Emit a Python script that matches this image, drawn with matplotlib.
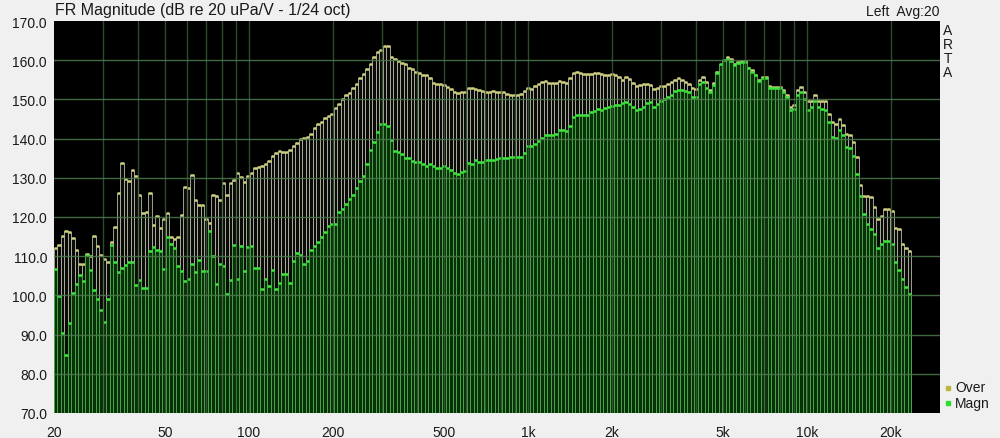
import numpy as np
import matplotlib
matplotlib.use("Agg")
import matplotlib.pyplot as plt
from matplotlib.ticker import FixedLocator, FixedFormatter, NullLocator

plt.rcParams['font.family'] = ['Liberation Sans', 'DejaVu Sans']

# ---------------- data (1/24 octave bands starting at 20 Hz) ----------------
f_start = 20.0
bands_per_octave = 24

over_db = [
    112.2, 112.8, 115.1, 116.5, 116.1, 114.7, 111.7, 108.0, 108.0, 110.6,
    110.0, 115.1, 112.6, 110.3, 109.2, 108.6, 113.5, 117.5, 126.0, 133.8,
    129.8, 129.2, 132.1, 130.5, 125.6, 120.9, 121.2, 126.0, 117.9, 120.2,
    117.1, 119.4, 120.9, 115.0, 114.5, 115.0, 120.5, 127.7, 127.5, 130.7,
    124.3, 123.0, 123.0, 119.4, 118.5, 125.7, 125.3, 124.3, 128.6, 125.7,
    128.8, 129.5, 131.2, 130.2, 129.0, 130.5, 131.1, 132.4, 132.8, 133.0,
    133.5, 134.3, 135.6, 136.2, 136.8, 136.6, 136.6, 137.0, 138.2, 138.8,
    139.8, 140.1, 140.5, 141.3, 142.8, 143.6, 144.3, 145.2, 145.8, 146.4,
    147.7, 148.8, 150.0, 151.0, 151.7, 152.8, 153.9, 155.4, 156.4, 157.7,
    159.0, 160.9, 162.0, 162.6, 163.5, 163.5, 160.9, 160.3, 159.8, 159.4,
    159.0, 158.1, 157.7, 157.1, 156.7, 156.1, 156.1, 155.5, 154.3, 154.0,
    154.0, 153.8, 153.1, 152.6, 152.0, 151.6, 151.8, 151.8, 152.9, 152.9,
    152.6, 152.5, 152.2, 152.0, 151.9, 152.2, 152.0, 152.0, 151.8, 151.4,
    151.2, 151.2, 151.0, 151.4, 152.2, 152.9, 152.6, 153.3, 153.9, 154.4,
    154.8, 154.2, 154.2, 154.2, 154.8, 154.4, 154.2, 155.5, 156.7, 157.0,
    156.7, 156.5, 156.6, 156.4, 156.7, 156.7, 156.4, 156.1, 156.2, 156.4,
    156.1, 155.8, 155.0, 155.8, 155.2, 154.1, 153.3, 153.7, 153.9, 153.9,
    153.7, 152.7, 153.0, 153.3, 153.3, 153.9, 154.4, 155.0, 155.4, 155.0,
    154.5, 153.9, 153.0, 152.7, 155.0, 155.8, 154.5, 152.4, 154.1, 157.1,
    158.8, 159.8, 160.7, 160.3, 159.0, 159.5, 159.7, 159.7, 158.1, 157.4,
    156.2, 155.0, 155.8, 155.8, 153.3, 153.2, 153.2, 153.2, 152.3, 151.0,
    148.0, 148.5, 152.3, 153.2, 151.9, 149.7, 149.5, 151.0, 149.7, 149.7,
    149.7, 146.3, 144.2, 143.8, 145.1, 143.4, 141.2, 141.0, 139.1, 135.3,
    128.2, 125.4, 125.4, 125.0, 122.5, 119.5, 120.3, 122.0, 122.0, 121.6,
    117.3, 116.9, 113.1, 112.0, 111.4,
]

magn_db = [
    106.7, 99.8, 90.3, 84.8, 93.0, 100.7, 103.0, 105.2, 103.6, 110.4,
    106.4, 101.5, 99.0, 96.4, 93.3, 99.2, 112.8, 108.6, 106.0, 107.1,
    107.7, 108.6, 108.6, 102.6, 103.9, 101.8, 101.9, 111.3, 112.4, 111.5,
    111.3, 106.7, 114.9, 113.2, 112.1, 107.6, 106.3, 103.6, 104.1, 107.9,
    106.0, 109.0, 106.3, 106.3, 116.4, 110.1, 103.0, 107.9, 107.6, 100.3,
    104.0, 112.9, 104.2, 112.6, 106.1, 112.3, 112.6, 107.0, 107.0, 101.7,
    104.2, 102.4, 106.4, 101.7, 103.2, 105.5, 105.5, 103.2, 108.7, 110.8,
    110.4, 108.1, 108.7, 111.7, 112.5, 113.6, 114.9, 116.2, 117.6, 118.3,
    118.3, 121.3, 122.0, 123.3, 124.5, 125.7, 127.4, 129.1, 130.5, 133.4,
    137.0, 139.2, 141.6, 143.6, 143.6, 143.3, 139.6, 136.8, 136.5, 136.0,
    135.1, 135.0, 134.4, 134.0, 134.0, 133.5, 133.0, 133.5, 132.9, 132.4,
    132.4, 132.9, 132.4, 132.0, 131.2, 130.9, 131.4, 131.8, 133.7, 133.5,
    134.6, 134.1, 134.1, 134.6, 134.6, 134.6, 134.8, 135.0, 135.0, 135.0,
    135.2, 135.2, 135.2, 135.4, 136.3, 138.0, 138.0, 138.6, 139.4, 140.1,
    141.0, 141.0, 140.8, 141.1, 142.2, 142.2, 142.0, 143.1, 145.4, 145.9,
    145.9, 146.1, 146.1, 146.7, 147.0, 147.5, 147.3, 147.9, 148.1, 148.4,
    148.6, 148.6, 149.2, 149.4, 148.8, 148.1, 147.3, 147.6, 148.1, 149.0,
    149.4, 148.1, 148.7, 149.6, 150.1, 150.5, 151.1, 152.2, 152.4, 152.4,
    152.2, 151.8, 150.7, 150.7, 153.9, 154.5, 153.0, 152.0, 153.7, 156.7,
    159.0, 160.1, 160.3, 159.9, 158.8, 159.2, 159.5, 159.5, 158.0, 157.1,
    156.1, 154.7, 155.4, 155.4, 153.0, 152.9, 152.9, 153.0, 151.8, 150.5,
    147.2, 147.6, 151.0, 151.9, 150.2, 147.2, 148.1, 149.5, 148.1, 147.6,
    147.2, 144.2, 140.4, 140.1, 142.1, 141.0, 137.8, 137.6, 135.5, 131.0,
    125.4, 120.7, 118.2, 117.0, 115.6, 112.2, 113.1, 113.9, 113.9, 113.1,
    108.5, 106.4, 104.2, 102.1, 100.4,
]

x_ticks = [20, 50, 100, 200, 500, 1000, 2000, 5000, 10000, 20000]
x_tick_labels = ['20', '50', '100', '200', '500', '1k', '2k', '5k', '10k', '20k']
y_ticks = [70, 80, 90, 100, 110, 120, 130, 140, 150, 160, 170]
grid_freqs = [m * 10 ** e for e in range(1, 5) for m in range(1, 10)]

# ---------------- figure ----------------
W, H = 1000, 439
fig = plt.figure(figsize=(W / 100, H / 100), dpi=100, facecolor='#f0f0f0')
ax = fig.add_axes([54 / W, 1 - 414 / H, 886 / W, 392 / H])
ax.set_facecolor('black')
ax.set_xscale('log')
ax.set_xlim(20, 30000)
ax.set_ylim(70, 170)

n = len(over_db)
idx = np.arange(n)
left = f_start * 2 ** (idx / bands_per_octave)
right = f_start * 2 ** ((idx + 1) / bands_per_octave)
width = right - left
base = 70.0
over = np.array(over_db)
magn = np.array(magn_db)

ax.bar(left, over - base, width=width, bottom=base, align='edge',
       color='#0a0a08', edgecolor='#b8b8a8', linewidth=0.6, zorder=2)
ax.hlines(over, left, right, colors='#cfcf7c', linewidth=1.8, zorder=3)
ax.bar(left, magn - base, width=width, bottom=base, align='edge',
       color='#0a300a', edgecolor='#4aae4a', linewidth=0.6, zorder=4)
ax.hlines(magn, left, right, colors='#3ce83c', linewidth=1.8, zorder=5)

# grid drawn over the bars
for g in grid_freqs:
    if 20 < g < 30000:
        ax.axvline(g, color='#3a5e3a', linewidth=1.0, alpha=0.8, zorder=6)
for yv in y_ticks[1:-1]:
    ax.axhline(yv, color='#4d7a4d', linewidth=1.0, alpha=0.85, zorder=6)

for s in ax.spines.values():
    s.set_visible(False)

ax.xaxis.set_major_locator(FixedLocator(x_ticks))
ax.xaxis.set_major_formatter(FixedFormatter(x_tick_labels))
ax.xaxis.set_minor_locator(NullLocator())
ax.set_yticks(y_ticks)
ax.set_yticklabels(['%.1f' % v for v in y_ticks])
ax.tick_params(axis='both', length=0, labelsize=10, colors='#1a1a1a')
ax.tick_params(axis='x', pad=9)
ax.tick_params(axis='y', pad=5)

# texts
fig.text(55 / W, 1 - 11 / H, 'FR Magnitude (dB re 20 uPa/V - 1/24 oct)',
         ha='left', va='center', fontsize=11.5, color='#1a1a1a')
fig.text(940 / W, 1 - 12 / H, 'Left  Avg:20', ha='right', va='center',
         fontsize=10, color='#1a1a1a')
for k, ch in enumerate('ARTA'):
    fig.text(948 / W, 1 - (31 + 14 * k) / H, ch, ha='center', va='center',
             fontsize=10, color='#1a1a1a')

# legend
fig.patches.append(plt.Rectangle((946 / W, 1 - 391 / H), 4 / W, 4 / H,
                                 transform=fig.transFigure, color='#bdb83c'))
fig.patches.append(plt.Rectangle((946 / W, 1 - 406 / H), 4 / W, 4 / H,
                                 transform=fig.transFigure, color='#2ede2e'))
fig.text(955 / W, 1 - 388 / H, 'Over', ha='left', va='center', fontsize=10,
         color='#1a1a1a')
fig.text(955 / W, 1 - 404 / H, 'Magn', ha='left', va='center', fontsize=10,
         color='#1a1a1a')

fig.savefig('out.png', dpi=100, facecolor=fig.get_facecolor())
